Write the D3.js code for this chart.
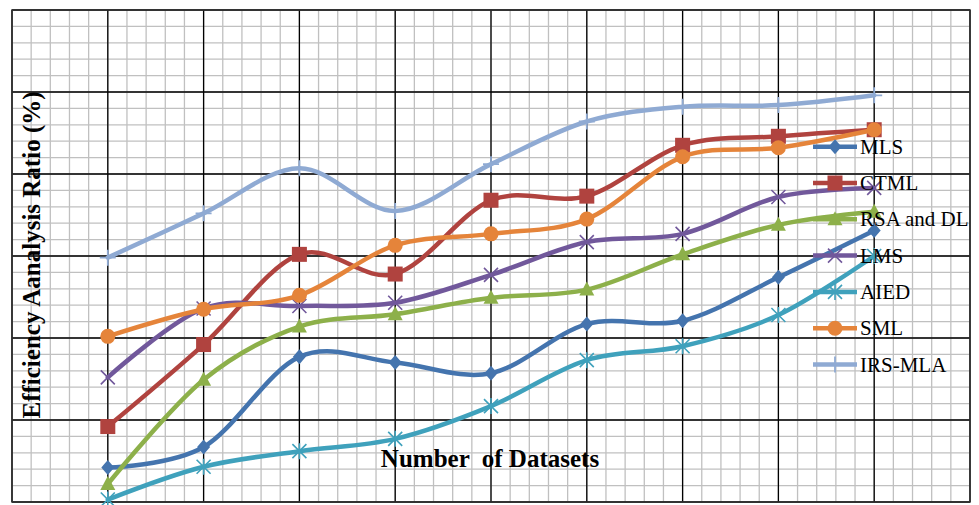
<!DOCTYPE html>
<html>
<head>
<meta charset="utf-8">
<script src="https://cdn.jsdelivr.net/npm/d3@7"></script>
<style>
  html, body { margin: 0; padding: 0; background: #ffffff; }
  svg { display: block; }
</style>
</head>
<body>
<svg id="chart" width="979" height="505"></svg>
<script>
// ---- data ----
const datasets = [1, 2, 3, 4, 5, 6, 7, 8, 9];
const seriesNames = ["MLS", "CTML", "RSA and DL", "LMS", "AIED", "SML", "IRS-MLA"];
const mlsValues    = [4.2, 6.7, 17.7, 17.0, 15.7, 21.7, 22.1, 27.4, 33.1];
const ctmlValues   = [9.2, 19.2, 30.2, 27.8, 36.8, 37.3, 43.5, 44.6, 45.4];
const rsaValues    = [2.2, 14.9, 21.4, 22.9, 24.9, 25.9, 30.2, 33.8, 35.4];
const lmsValues    = [15.2, 23.6, 23.9, 24.3, 27.7, 31.7, 32.7, 37.2, 38.3];
const aiedValues   = [0.3, 4.3, 6.2, 7.7, 11.7, 17.3, 19.0, 22.8, 30.0];
const smlValues    = [20.2, 23.5, 25.2, 31.3, 32.7, 34.5, 42.1, 43.2, 45.4];
const irsmlaValues = [29.8, 35.2, 40.7, 35.5, 41.2, 46.4, 48.2, 48.4, 49.6];
const xTitle = "Number  of Datasets";
const yTitle = "Efficiency Aanalysis Ratio (%)";

const seriesValues = [mlsValues, ctmlValues, rsaValues, lmsValues, aiedValues, smlValues, irsmlaValues];
const seriesColors = ["#4474AE", "#B0433F", "#8DB04A", "#71589B", "#3FA1BC", "#E5843A", "#8FAAD3"];
const seriesMarkers = ["diamond", "square", "triangle", "x", "asterisk", "circle", "plus"];

// ---- layout ----
const svg = d3.select("#chart");
const plotL = 12, plotR = 970, plotT = 10, plotB = 502;
const x = d3.scaleLinear().domain([0, 10]).range([plotL, plotR]);
const y = d3.scaleLinear().domain([0, 60]).range([plotB, plotT]);

// grid
const g = svg.append("g");
g.selectAll("line.minx").data(d3.range(0, 10.001, 0.2)).join("line")
  .attr("x1", d => x(d)).attr("x2", d => x(d)).attr("y1", plotT).attr("y2", plotB)
  .attr("stroke", "#c0c0c0").attr("stroke-width", 1.3);
g.selectAll("line.miny").data(d3.range(0, 60.001, 2)).join("line")
  .attr("x1", plotL).attr("x2", plotR).attr("y1", d => y(d)).attr("y2", d => y(d))
  .attr("stroke", "#c0c0c0").attr("stroke-width", 1.3);
g.selectAll("line.majx").data(d3.range(0, 10.001, 1)).join("line")
  .attr("x1", d => x(d)).attr("x2", d => x(d)).attr("y1", plotT).attr("y2", plotB)
  .attr("stroke", "#000").attr("stroke-width", 1.3);
g.selectAll("line.majy").data(d3.range(0, 60.001, 10)).join("line")
  .attr("x1", plotL).attr("x2", plotR).attr("y1", d => y(d)).attr("y2", d => y(d))
  .attr("stroke", "#000").attr("stroke-width", 1.3);
svg.append("rect").attr("x", plotL).attr("y", plotT).attr("width", plotR - plotL).attr("height", plotB - plotT)
  .attr("fill", "none").attr("stroke", "#333").attr("stroke-width", 1.5);

// marker drawing
function drawMarker(sel, type, color, cx, cy) {
  const m = sel.append("g").attr("transform", `translate(${cx},${cy})`);
  if (type === "diamond") {
    m.append("path").attr("d", "M0,-7.5L6.5,0L0,7.5L-6.5,0Z").attr("fill", color);
  } else if (type === "square") {
    m.append("rect").attr("x", -7.5).attr("y", -7.5).attr("width", 15).attr("height", 15).attr("fill", color);
  } else if (type === "triangle") {
    m.append("path").attr("d", "M0,-8L7.5,6L-7.5,6Z").attr("fill", color);
  } else if (type === "circle") {
    m.append("circle").attr("r", 7.5).attr("fill", color);
  } else if (type === "x") {
    m.append("path").attr("d", "M-7,-7L7,7M-7,7L7,-7").attr("stroke", color).attr("stroke-width", 1.6).attr("fill", "none");
  } else if (type === "asterisk") {
    m.append("path").attr("d", "M-7,-7L7,7M-7,7L7,-7M0,-8L0,8").attr("stroke", color).attr("stroke-width", 1.6).attr("fill", "none");
  } else if (type === "plus") {
    m.append("path").attr("d", "M-8,0L8,0M0,-8L0,8").attr("stroke", color).attr("stroke-width", 1.8).attr("fill", "none");
  }
}

// lines
const line = d3.line().x((d, i) => x(datasets[i])).y(d => y(d)).curve(d3.curveCatmullRom.alpha(0));
seriesValues.forEach((vals, si) => {
  const sg = svg.append("g");
  sg.append("path").attr("d", line(vals)).attr("fill", "none")
    .attr("stroke", seriesColors[si]).attr("stroke-width", 4.5).attr("stroke-linejoin", "round").attr("stroke-linecap", "round");
  vals.forEach((v, i) => drawMarker(sg, seriesMarkers[si], seriesColors[si], x(datasets[i]), y(v)));
});

// legend
const lg = svg.append("g");
seriesNames.forEach((name, i) => {
  const ly = 146.7 + i * 36.3;
  lg.append("line").attr("x1", 813).attr("x2", 857).attr("y1", ly).attr("y2", ly)
    .attr("stroke", seriesColors[i]).attr("stroke-width", 4.5);
  drawMarker(lg, seriesMarkers[i], seriesColors[i], 835, ly);
  lg.append("text").attr("x", 860).attr("y", ly + 7)
    .attr("font-family", "'Liberation Serif', 'Times New Roman', serif").attr("font-size", 21)
    .attr("fill", "#000").text(name);
});

// axis titles
svg.append("text").attr("x", 490).attr("y", 467).attr("text-anchor", "middle")
  .attr("font-family", "'Liberation Serif', 'Times New Roman', serif").attr("font-size", 25)
  .attr("font-weight", "bold").style("white-space", "pre").attr("fill", "#000").text(xTitle);
svg.append("text").attr("transform", "translate(40,255) rotate(-90)").attr("text-anchor", "middle")
  .attr("font-family", "'Liberation Serif', 'Times New Roman', serif").attr("font-size", 25)
  .attr("font-weight", "bold").attr("fill", "#000").text(yTitle);
</script>
</body>
</html>
